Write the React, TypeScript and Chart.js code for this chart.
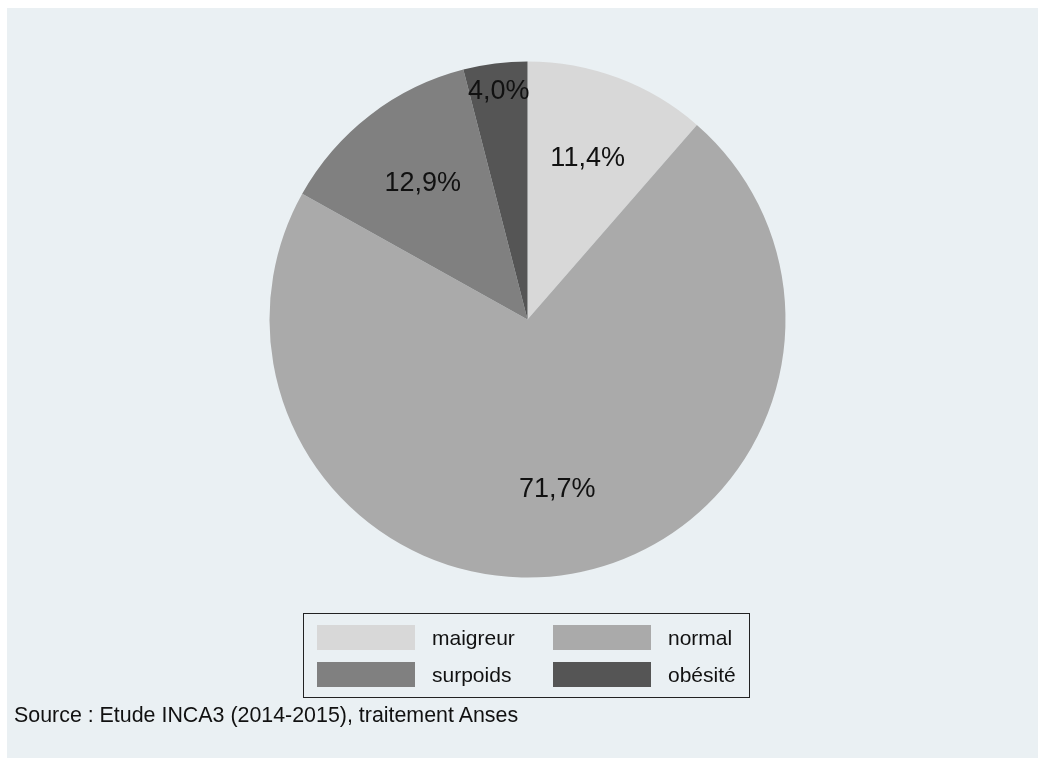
import React, { useEffect, useRef } from "react";
import { Chart, registerables } from "chart.js";

Chart.register(...registerables);

const categories = ["maigreur", "normal", "surpoids", "obésité"];
const values = [11.4, 71.7, 12.9, 4.0];
const sliceColors = ["#D8D8D8", "#AAAAAA", "#808080", "#555555"];
const sourceNote = "Source : Etude INCA3 (2014-2015), traitement Anses";

const FONT = '"Liberation Sans", Arial, Helvetica, sans-serif';
const BG = "#EAF0F3";

const labelPlugin = {
  id: "sliceLabels",
  afterDatasetsDraw(chart: any) {
    const ctx = chart.ctx;
    const meta = chart.getDatasetMeta(0);
    const fracs = [0.665, 0.67, 0.665, 0.89];
    ctx.save();
    ctx.font = `27px ${FONT}`;
    ctx.fillStyle = "#111111";
    ctx.textAlign = "center";
    ctx.textBaseline = "middle";
    meta.data.forEach((arc: any, i: number) => {
      const p = arc.getProps(["x", "y", "startAngle", "endAngle", "outerRadius"], true);
      const mid = (p.startAngle + p.endAngle) / 2;
      const r = p.outerRadius * fracs[i];
      const txt = values[i].toFixed(1).replace(".", ",") + "%";
      ctx.fillText(txt, p.x + Math.cos(mid) * r, p.y + Math.sin(mid) * r);
    });
    ctx.restore();
  },
};

export default function App() {
  const ref = useRef<HTMLCanvasElement | null>(null);

  useEffect(() => {
    if (!ref.current) return;
    const chart = new Chart(ref.current, {
      type: "pie",
      data: {
        labels: categories,
        datasets: [
          {
            data: values,
            backgroundColor: sliceColors,
            borderWidth: 0,
          },
        ],
      },
      options: {
        animation: false,
        responsive: false,
        maintainAspectRatio: false,
        layout: { padding: { left: 262.5, right: 252.5, top: 53.5, bottom: 180.5 } },
        plugins: {
          legend: { display: false },
          tooltip: { enabled: false },
        },
      },
      plugins: [labelPlugin],
    });
    return () => chart.destroy();
  }, []);

  const legendItem = (i: number, left: number, top: number) => (
    <div key={i} style={{ position: "absolute", left, top, height: 25, display: "flex", alignItems: "center" }}>
      <div style={{ width: 98, height: 25, background: sliceColors[i] }} />
      <span style={{ marginLeft: 17, fontSize: 21, color: "#111", fontFamily: FONT, lineHeight: "25px" }}>
        {categories[i]}
      </span>
    </div>
  );

  return (
    <div
      style={{
        position: "fixed",
        left: 7,
        top: 8,
        right: 0,
        bottom: 0,
        background: BG,
        fontFamily: FONT,
        overflow: "hidden",
      }}
    >
      <canvas ref={ref} width={1031} height={750} style={{ position: "absolute", left: 0, top: 0 }} />
      <div
        style={{
          position: "absolute",
          left: 296,
          top: 605,
          width: 445,
          height: 83,
          border: "1.5px solid #222",
          boxSizing: "content-box",
        }}
      />
      {legendItem(0, 310, 617)}
      {legendItem(1, 546, 617)}
      {legendItem(2, 310, 654)}
      {legendItem(3, 546, 654)}
      <div
        style={{
          position: "absolute",
          left: 7,
          top: 695,
          fontSize: 21.4,
          lineHeight: "24px",
          color: "#111",
          fontFamily: FONT,
          whiteSpace: "nowrap",
        }}
      >
        {sourceNote}
      </div>
    </div>
  );
}
